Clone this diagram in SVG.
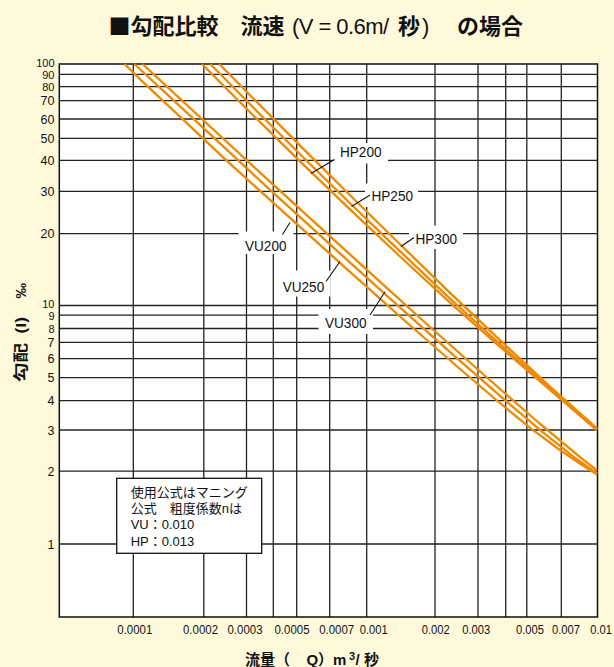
<svg xmlns="http://www.w3.org/2000/svg" width="614" height="667" viewBox="0 0 614 667">
<style>
.bg{fill:#FFF9DC}
.plot{fill:#FFFFFF}
.frame{fill:none;stroke:#111;stroke-width:1.5}
.grid line{stroke:#222;stroke-width:1.3}
.mask{fill:#FFFFFF}
.curve{fill:none;stroke:#EF8A00;stroke-width:2.3;stroke-linejoin:round}
.leader{stroke:#111;stroke-width:1.1}
text{font-family:"Liberation Sans","Noto Sans CJK JP",sans-serif;fill:#111}
.cjk{font-family:"Noto Sans CJK JP",sans-serif}
.yl{font-size:12.5px;text-anchor:end}
.ys{font-size:11px;text-anchor:end}
.xl{font-size:12px;text-anchor:middle}
.lab{font-size:14px}
.note{font-size:13px}
.ttl{font-size:22px}
.b{font-weight:bold}
.ax{font-size:15px;font-weight:bold}
.nbox{fill:#FFFFFF;stroke:#111;stroke-width:1.3}
</style>
<rect class="bg" x="0" y="0" width="614" height="667"/>
<g id="title">
<text class="ttl" y="34"><tspan class="cjk b" x="108.5">■勾配比較　流速</tspan><tspan x="292" textLength="97" lengthAdjust="spacing">(V = 0.6m/</tspan><tspan class="b" x="398">秒</tspan><tspan x="422">)</tspan><tspan class="b" x="457">の場合</tspan></text>
</g>
<rect class="plot" x="59.3" y="64" width="538.2" height="553"/>
<g id="grid" class="grid">
<line x1="59.3" y1="74.3" x2="597.5" y2="74.3"/>
<line x1="59.3" y1="86.7" x2="597.5" y2="86.7"/>
<line x1="59.3" y1="100.7" x2="597.5" y2="100.7"/>
<line x1="59.3" y1="119" x2="597.5" y2="119"/>
<line x1="59.3" y1="138.3" x2="597.5" y2="138.3"/>
<line x1="59.3" y1="160.3" x2="597.5" y2="160.3"/>
<line x1="59.3" y1="191.3" x2="597.5" y2="191.3"/>
<line x1="59.3" y1="233.7" x2="597.5" y2="233.7"/>
<line x1="59.3" y1="305.5" x2="597.5" y2="305.5"/>
<line x1="59.3" y1="315.2" x2="597.5" y2="315.2"/>
<line x1="59.3" y1="328.5" x2="597.5" y2="328.5"/>
<line x1="59.3" y1="342.3" x2="597.5" y2="342.3"/>
<line x1="59.3" y1="358.6" x2="597.5" y2="358.6"/>
<line x1="59.3" y1="377.7" x2="597.5" y2="377.7"/>
<line x1="59.3" y1="400.7" x2="597.5" y2="400.7"/>
<line x1="59.3" y1="430" x2="597.5" y2="430"/>
<line x1="59.3" y1="471.2" x2="597.5" y2="471.2"/>
<line x1="59.3" y1="544" x2="597.5" y2="544"/>
<line x1="133.3" y1="64" x2="133.3" y2="617"/>
<line x1="203.8" y1="64" x2="203.8" y2="617"/>
<line x1="246.5" y1="64" x2="246.5" y2="617"/>
<line x1="273.3" y1="64" x2="273.3" y2="617"/>
<line x1="296.7" y1="64" x2="296.7" y2="617"/>
<line x1="329.7" y1="64" x2="329.7" y2="617"/>
<line x1="366.7" y1="64" x2="366.7" y2="617"/>
<line x1="435" y1="64" x2="435" y2="617"/>
<line x1="478" y1="64" x2="478" y2="617"/>
<line x1="505.7" y1="64" x2="505.7" y2="617"/>
<line x1="526.8" y1="64" x2="526.8" y2="617"/>
<line x1="561.3" y1="64" x2="561.3" y2="617"/>
</g>
<rect class="frame" x="59.3" y="64" width="538.2" height="553"/>
<g id="label-masks">
<rect class="mask" x="333.5" y="143" width="54.5" height="20.5"/>
<rect class="mask" x="365" y="183.5" width="53" height="23.5"/>
<rect class="mask" x="409" y="225.5" width="54" height="23.5"/>
<rect class="mask" x="238.5" y="231.5" width="55" height="22.5"/>
<rect class="mask" x="276" y="270.5" width="54.5" height="26"/>
<rect class="mask" x="318.5" y="309" width="54.5" height="25"/>
</g>
<g id="curves">
<path id="VU200-curve" class="curve" d="M124.5,64 L141.5,80.7 L186.5,122.9 L225.3,159.3 L260.3,191.1 L291.4,219.1 L344.6,267.1 L407.9,323.5 L457.7,367 L498.1,401.5 L531.4,428.9 L559.1,449.5 L582.1,465 L597,474.5"/>
<path id="VU250-curve" class="curve" d="M134.3,64 L186,111.9 L231.5,154.2 L270.6,190.4 L336.6,250.4 L389.5,298.2 L452.6,354.4 L502.4,397.9 L542.9,432.3 L576.2,458.8 L597,473.5"/>
<path id="VU300-curve" class="curve" d="M142.5,64 L167.5,87.2 L222,137.5 L267.7,179.6 L307.5,215.9 L373.5,275.8 L426.1,323.5 L489.1,379.5 L539,423 L579.4,456.6 L597,470.5"/>
<path id="HP200-curve" class="curve" d="M202,64 L225,87.3 L250,112.3 L300,161.4 L350,209.4 L400,256.5 L450,302.6 L500,346.9 L550,390 L597,430.5"/>
<path id="HP250-curve" class="curve" d="M210.3,64 L250,104.3 L300,154.2 L350,203.2 L400,251.3 L450,298.6 L500,344.2 L550,388.7 L597,429.3"/>
<path id="HP300-curve" class="curve" d="M219.3,64 L250,95.2 L300,145.6 L350,195.2 L400,244.3 L450,292.8 L500,340.2 L550,386.6 L597,428.3"/>
</g>
<g id="connectors">
<line class="leader" x1="334.5" y1="159.5" x2="311" y2="173.5"/>
<line class="leader" x1="370" y1="195" x2="351.5" y2="206.5"/>
<line class="leader" x1="414" y1="237.5" x2="401" y2="246.5"/>
<line class="leader" x1="282.5" y1="234.5" x2="290" y2="222.5"/>
<line class="leader" x1="326" y1="281.5" x2="340" y2="261.5"/>
<line class="leader" x1="370" y1="315" x2="385" y2="291.7"/>
</g>
<g id="HP200"><text class="lab" x="340" y="156.5" textLength="41.5" lengthAdjust="spacingAndGlyphs">HP200</text></g>
<g id="HP250"><text class="lab" x="371.5" y="200.5" textLength="41.5" lengthAdjust="spacingAndGlyphs">HP250</text></g>
<g id="HP300"><text class="lab" x="415.5" y="244" textLength="41.5" lengthAdjust="spacingAndGlyphs">HP300</text></g>
<g id="VU200"><text class="lab" x="245" y="250.5" textLength="41.5" lengthAdjust="spacingAndGlyphs">VU200</text></g>
<g id="VU250"><text class="lab" x="282.7" y="291.7" textLength="41.5" lengthAdjust="spacingAndGlyphs">VU250</text></g>
<g id="VU300"><text class="lab" x="325" y="328.3" textLength="41.5" lengthAdjust="spacingAndGlyphs">VU300</text></g>
<g id="note">
<rect class="nbox" x="116.7" y="478.3" width="145" height="75"/>
<text class="note" x="130.7" y="496.5">使用公式はマニング</text>
<text class="note" x="130.7" y="513">公式　粗度係数nは</text>
<text class="note" x="130.7" y="529.3">VU：0.010</text>
<text class="note" x="130.7" y="545.5">HP：0.013</text>
</g>
<g id="y-axis">
<text class="ys" x="54.5" y="66.5">100</text>
<text class="ys" x="54.5" y="78.8">90</text>
<text class="ys" x="54.5" y="91.2">80</text>
<text class="yl" x="54.5" y="105.2">70</text>
<text class="yl" x="54.5" y="123.5">60</text>
<text class="yl" x="54.5" y="142.8">50</text>
<text class="yl" x="54.5" y="164.8">40</text>
<text class="yl" x="54.5" y="195.8">30</text>
<text class="yl" x="54.5" y="238.2">20</text>
<text class="ys" x="54.5" y="307.5">10</text>
<text class="ys" x="54.5" y="320">9</text>
<text class="ys" x="54.5" y="333.3">8</text>
<text class="yl" x="54.5" y="346.8">7</text>
<text class="yl" x="54.5" y="363.1">6</text>
<text class="yl" x="54.5" y="382.2">5</text>
<text class="yl" x="54.5" y="405.2">4</text>
<text class="yl" x="54.5" y="434.5">3</text>
<text class="yl" x="54.5" y="475.7">2</text>
<text class="yl" x="54.5" y="548.5">1</text>
<g transform="translate(25.5,0) rotate(-90)">
<text class="ax" x="-382" y="0" font-size="14" textLength="39" lengthAdjust="spacingAndGlyphs">勾配</text>
<text class="ax" x="-333.5" y="0" font-size="14" textLength="16.5" lengthAdjust="spacingAndGlyphs">(I)</text>
<text class="ax" x="-298.5" y="0" font-size="14" textLength="15.5" lengthAdjust="spacingAndGlyphs">‰</text>
</g>
</g>
<g id="x-axis">
<text class="xl" x="134.8" y="634" textLength="35" lengthAdjust="spacingAndGlyphs">0.0001</text>
<text class="xl" x="200.5" y="634" textLength="35" lengthAdjust="spacingAndGlyphs">0.0002</text>
<text class="xl" x="245" y="634" textLength="35" lengthAdjust="spacingAndGlyphs">0.0003</text>
<text class="xl" x="292" y="634" textLength="35" lengthAdjust="spacingAndGlyphs">0.0005</text>
<text class="xl" x="336.7" y="634" textLength="35" lengthAdjust="spacingAndGlyphs">0.0007</text>
<text class="xl" x="373.7" y="634" textLength="28" lengthAdjust="spacingAndGlyphs">0.001</text>
<text class="xl" x="435.7" y="634" textLength="28" lengthAdjust="spacingAndGlyphs">0.002</text>
<text class="xl" x="476.2" y="634" textLength="28" lengthAdjust="spacingAndGlyphs">0.003</text>
<text class="xl" x="530" y="634" textLength="28" lengthAdjust="spacingAndGlyphs">0.005</text>
<text class="xl" x="566" y="634" textLength="28" lengthAdjust="spacingAndGlyphs">0.007</text>
<text class="xl" x="601" y="634" textLength="21.7" lengthAdjust="spacingAndGlyphs">0.01</text>
<text class="ax" y="665" font-size="16"><tspan x="245">流量（</tspan><tspan x="306.5">Q</tspan><tspan x="318">）m</tspan><tspan x="349" dy="-5" font-size="11">3</tspan><tspan x="355.5" dy="5">/</tspan><tspan x="364">秒</tspan></text>
</g>
</svg>
